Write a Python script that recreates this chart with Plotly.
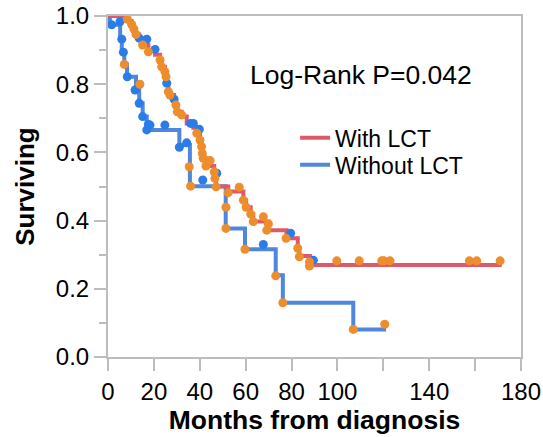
import plotly.graph_objects as go

# ---- Kaplan-Meier step curves (time in months, survival) ----
with_time = [0, 8.1, 10.3, 11.0, 12.2, 13.6, 15.1, 17.6, 20.5, 22.7, 23.4, 24.8, 25.3, 25.6,
             26.3, 27.0, 28.8, 29.6, 30.2, 32.1, 34.3, 37.2, 38.7, 40.1, 40.8, 41.1, 41.5,
             42.7, 46.3, 46.6, 47.1, 52.4, 59.0, 60.2, 62.2, 63.3, 70.0, 77.8, 82.7, 83.4,
             88.0, 171.6]
with_surv = [1.0, 0.985, 0.975, 0.962, 0.946, 0.933, 0.915, 0.897, 0.886, 0.871, 0.851, 0.837,
             0.822, 0.803, 0.778, 0.768, 0.756, 0.739, 0.719, 0.705, 0.685, 0.672, 0.656, 0.636,
             0.617, 0.597, 0.583, 0.56, 0.543, 0.524, 0.50, 0.485, 0.46, 0.439, 0.419, 0.397,
             0.372, 0.348, 0.32, 0.296, 0.27, 0.27]

without_time = [0, 0.8, 5.3, 6.0, 7.1, 8.3, 12.2, 13.6, 15.1, 16.9, 31.1, 35.7, 51.3, 59.7,
                73.1, 76.2, 106.9, 121.2]
without_surv = [1.0, 0.974, 0.932, 0.894, 0.858, 0.822, 0.783, 0.744, 0.705, 0.666, 0.622,
                0.501, 0.377, 0.316, 0.24, 0.159, 0.081, 0.081]

# ---- observation dots ----
orange_x = [8.5, 10.3, 11.3, 12.2, 15.1, 17.6, 22.7, 23.4, 24.8, 25.3, 26.3, 27.0, 29.6, 30.2,
            32.1, 38.7, 40.1, 40.8, 41.1, 41.5, 44.5, 42.7, 46.3, 46.6, 47.1, 52.4, 57.2, 59.0,
            60.2, 62.2, 63.3, 67.7, 69.9, 69.2, 77.6, 82.7, 83.4, 87.8, 87.8, 99.7, 109.5,
            119.3, 120.3, 122.9, 157.5, 160.7, 170.9,
            7.1, 13.9, 35.4, 36.0, 51.4, 51.4, 59.7, 73.1, 76.2, 106.9, 120.6]
orange_y = [0.99, 0.975, 0.962, 0.946, 0.915, 0.895, 0.871, 0.851, 0.837, 0.822, 0.778, 0.768,
            0.739, 0.719, 0.710, 0.656, 0.636, 0.617, 0.597, 0.583, 0.576, 0.560, 0.543, 0.524,
            0.499, 0.482, 0.498, 0.460, 0.439, 0.419, 0.397, 0.411, 0.390, 0.372, 0.348, 0.319,
            0.294, 0.279, 0.267, 0.282, 0.282, 0.282, 0.282, 0.282, 0.282, 0.282, 0.282,
            0.858, 0.80, 0.558, 0.501, 0.439, 0.377, 0.316, 0.238, 0.159, 0.081, 0.096]

blue_x = [1.6, 5.2, 6.0, 6.7, 8.4, 11.8, 13.6, 15.1, 17.6, 16.9, 18.3, 24.8, 31.1, 34.3, 41.3,
          67.7, 13.6, 16.9, 20.5, 25.6, 28.8, 36.0, 37.2, 39.8, 47.4, 79.6, 89.5]
blue_y = [0.974, 0.983, 0.932, 0.894, 0.822, 0.783, 0.744, 0.705, 0.682, 0.666, 0.680, 0.680,
          0.615, 0.628, 0.519, 0.33, 0.935, 0.932, 0.902, 0.803, 0.756, 0.685, 0.685, 0.668,
          0.539, 0.363, 0.284]

x_ticks = [0, 20, 40, 60, 80, 100, 120, 140, 160, 180]
x_ticklabels = ["0", "20", "40", "60", "80", "100", "", "140", "", "180"]
y_ticks = [0.0, 0.2, 0.4, 0.6, 0.8, 1.0]
y_ticklabels = ["0.0", "0.2", "0.4", "0.6", "0.8", "1.0"]

RED = "#DD5A6B"
BLUE = "#4F87DD"
BLUE_DOT = "#2A7DE8"
ORANGE = "#EE8D2C"
GRID = "#BDBDBD"

fig = go.Figure()
fig.add_trace(go.Scatter(x=without_time, y=without_surv, mode="lines", line_shape="hv",
                         line=dict(color=BLUE, width=4), name="Without LCT", legend="legend2"))
fig.add_trace(go.Scatter(x=with_time, y=with_surv, mode="lines", line_shape="hv",
                         line=dict(color=RED, width=4), name="With LCT", legend="legend"))
fig.add_trace(go.Scatter(x=blue_x, y=blue_y, mode="markers", showlegend=False, cliponaxis=False,
                         marker=dict(color=BLUE_DOT, size=9)))
fig.add_trace(go.Scatter(x=orange_x, y=orange_y, mode="markers", showlegend=False, cliponaxis=False,
                         marker=dict(color=ORANGE, size=9)))

fig.add_annotation(x=110.3, y=0.827, xref="x", yref="y", text="Log-Rank P=0.042",
                   showarrow=False, font=dict(size=26.5, color="black"))

axis_common = dict(showline=True, linecolor=GRID, linewidth=2, mirror=True, ticks="outside",
                   tickcolor=GRID, tickwidth=2, ticklen=12, showgrid=False, zeroline=False,
                   automargin=False, ticklabeloverflow="allow",
                   tickfont=dict(size=24, color="black"))

fig.update_xaxes(range=[0, 180], tickmode="array", tickvals=x_ticks, ticktext=x_ticklabels,
                 title=dict(text="<b>Months from diagnosis</b>", font=dict(size=26.5), standoff=0),
                 **axis_common)
fig.update_yaxes(range=[0, 1.0], tickmode="array", tickvals=y_ticks, ticktext=y_ticklabels,
                 minor=dict(dtick=0.1, tick0=0, ticks="outside", ticklen=7, tickcolor=GRID, tickwidth=2),
                 title=dict(text="<b>Surviving</b>", font=dict(size=26), standoff=14),
                 **axis_common)

leg_common = dict(xanchor="left", yanchor="middle", bgcolor="rgba(0,0,0,0)",
                  font=dict(size=23), borderwidth=0)
fig.update_layout(
    width=543, height=437,
    margin=dict(l=108, r=22, t=16, b=80, autoexpand=False),
    plot_bgcolor="white", paper_bgcolor="white",
    font=dict(family="Liberation Sans, Arial, Helvetica", color="black"),
    legend=dict(x=0.453, y=0.643, **leg_common),
    legend2=dict(x=0.453, y=0.564, **leg_common),
)

fig.write_html("out.html",
               config={"displayModeBar": False},
               post_script="document.body.style.margin='0';document.body.style.overflow='hidden';")
